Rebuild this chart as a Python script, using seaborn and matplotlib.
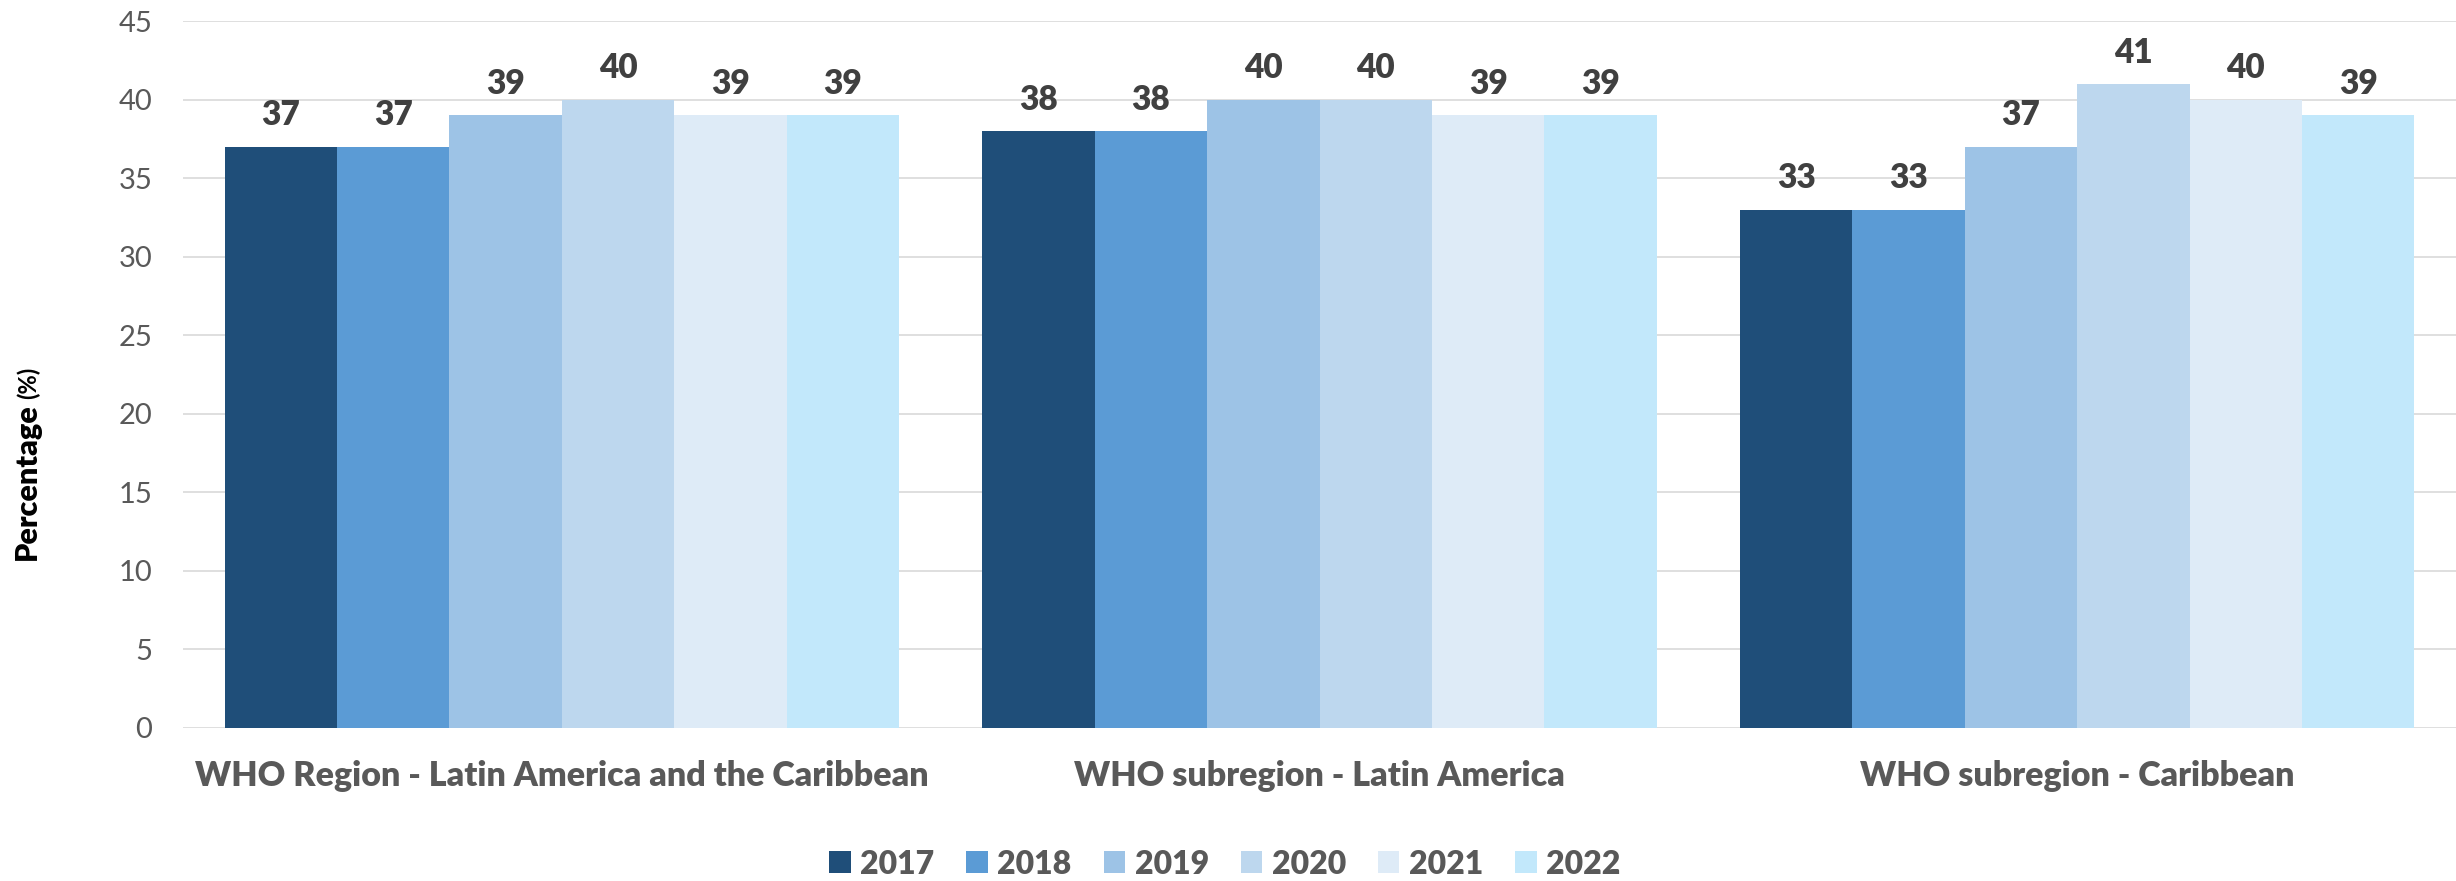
import matplotlib
matplotlib.use("Agg")
import matplotlib.pyplot as plt
import seaborn as sns
import pandas as pd

REGIONS = [
    "WHO Region - Latin America and the Caribbean",
    "WHO subregion - Latin America",
    "WHO subregion - Caribbean",
]
YEARS = ["2017", "2018", "2019", "2020", "2021", "2022"]
VAL_2017 = [37, 38, 33]
VAL_2018 = [37, 38, 33]
VAL_2019 = [39, 40, 37]
VAL_2020 = [40, 40, 41]
VAL_2021 = [39, 39, 40]
VAL_2022 = [39, 39, 39]
YEAR_COLORS = ["#1F4E79", "#5B9BD5", "#9DC3E6", "#BDD7EE", "#DEEBF7", "#C2E8FB"]

TEXT_GREY = "#595959"
LABEL_GREY = "#404040"


def main():
    series = [VAL_2017, VAL_2018, VAL_2019, VAL_2020, VAL_2021, VAL_2022]
    rows = []
    for year, vals in zip(YEARS, series):
        for region, v in zip(REGIONS, vals):
            rows.append([region, year, v])
    df = pd.DataFrame(rows, columns=["region", "year", "pct"])

    sns.set_style("white")
    plt.rcParams["font.family"] = ["Lato", "DejaVu Sans"]

    fig = plt.figure(figsize=(24.56, 8.81), dpi=100)
    ax = fig.add_axes([183 / 2456, 1 - 728 / 881, 1 - 183 / 2456, (728 - 21) / 881])

    sns.barplot(
        data=df, x="region", y="pct", hue="year",
        order=REGIONS, hue_order=YEARS,
        palette=dict(zip(YEARS, YEAR_COLORS)),
        width=0.89, gap=0, linewidth=0, saturation=1,
        errorbar=None, ax=ax,
    )

    for cont in ax.containers:
        ax.bar_label(cont, fmt="%d", padding=11, fontsize=24,
                     fontweight="heavy", color=LABEL_GREY)

    ax.set_ylim(0, 45)
    ax.set_yticks(range(0, 46, 5))
    ax.set_xlim(-0.5, 2.5)
    ax.grid(axis="y", color="#D9D9D9", linewidth=1.2)
    ax.set_axisbelow(True)
    for s in ax.spines.values():
        s.set_visible(False)
    ax.tick_params(axis="both", length=0)
    ax.tick_params(axis="y", labelsize=21, labelcolor=TEXT_GREY, pad=22)
    ax.tick_params(axis="x", labelsize=24.5, labelcolor=TEXT_GREY, pad=23)
    for t in ax.get_xticklabels():
        t.set_fontweight("heavy")
    ax.set_xlabel("")
    ax.set_ylabel("")

    # y label: bold word, with the smaller unit chained right above it
    ptext = fig.text(27 / 2456, 1 - 560 / 881, "Percentage", rotation=90,
                     ha="center", va="bottom", fontsize=22, fontweight="heavy",
                     color="black")
    ax.annotate("(%)", xy=(0.5, 1.0), xycoords=ptext,
                xytext=(1, 3), textcoords="offset points",
                rotation=90, ha="center", va="bottom", fontsize=17,
                fontweight="bold", color="black", annotation_clip=False)

    handles, labels = ax.get_legend_handles_labels()
    ax.legend_.remove()
    leg = fig.legend(
        handles, labels, loc="center", bbox_to_anchor=(1225 / 2456, 1 - 864 / 881),
        ncol=6, frameon=False, handlelength=0.67, handleheight=0.67,
        handletextpad=0.3, columnspacing=1.0,
        prop={"size": 23, "weight": "heavy"},
    )
    for t in leg.get_texts():
        t.set_color(TEXT_GREY)

    fig.savefig("out.png", dpi=100)
    plt.close(fig)


if __name__ == "__main__":
    main()
